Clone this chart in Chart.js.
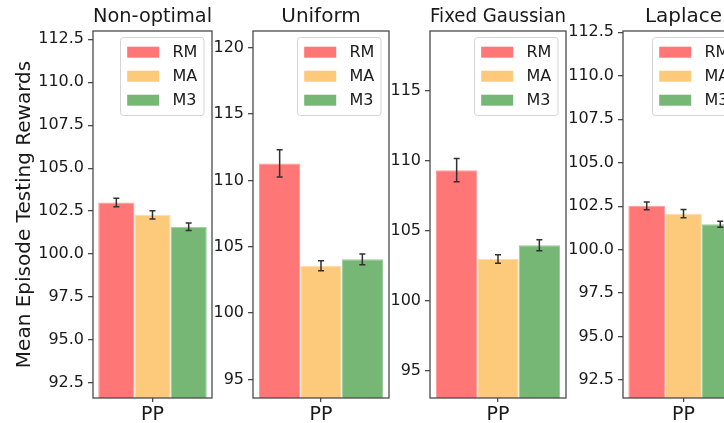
<!DOCTYPE html>
<html>
<head>
<meta charset="utf-8">
<script src="https://cdn.jsdelivr.net/npm/chart.js@4/dist/chart.umd.min.js"></script>
<style>
  html, body { margin: 0; padding: 0; background: #fff; }
  body { position: relative; width: 724px; height: 423px; overflow: hidden; }
  canvas { position: absolute; top: 0; }
</style>
</head>
<body>
<canvas id="c0"></canvas>
<canvas id="c1"></canvas>
<canvas id="c2"></canvas>
<canvas id="c3"></canvas>
<script>
// Data
const categories = ['PP'];
const methods = ['RM', 'MA', 'M3'];
const panelTitles = ['Non-optimal', 'Uniform', 'Fixed Gaussian', 'Laplace'];
const yAxisLabel = 'Mean Episode Testing Rewards';

const rmMeans = [103.0, 111.28, 109.34, 102.52];
const maMeans = [102.29, 103.57, 103.0, 102.07];
const m3Means = [101.59, 104.05, 103.98, 101.46];
const rmErrs = [0.25, 1.03, 0.83, 0.22];
const maErrs = [0.24, 0.38, 0.30, 0.24];
const m3Errs = [0.22, 0.40, 0.39, 0.17];

const yMins = [91.63, 93.6, 93.08, 91.47];
const yMaxs = [112.98, 121.26, 119.28, 112.57];
const yTicksA = [92.5, 95.0, 97.5, 100.0, 102.5, 105.0, 107.5, 110.0, 112.5];
const yTicksB = [95, 100, 105, 110, 115, 120];
const yTicksC = [95, 100, 105, 110, 115];
const panelTicks = [yTicksA, yTicksB, yTicksC, yTicksA];
const tickDecimals = [1, 0, 0, 1];

// Styling
const colors = ['#ff7676', '#fdca7b', '#76b776'];
const edgeColors = ['#ff9c9c', '#fedcab', '#9ccb9c'];
const frameColor = '#4a4a4a';
const textColor = '#1a1a1a';
const fontFamily = "'DejaVu Sans', sans-serif";

// canvas left, y-axis width, canvas width
const panelBoxes = [
    { left: 0, yWidth: 93, width: 216 },
    { left: 214, yWidth: 39, width: 179 },
    { left: 392, yWidth: 38, width: 178 },
    { left: 570, yWidth: 53, width: 178 }
];

const meansBy = [rmMeans, maMeans, m3Means];
const errsBy = [rmErrs, maErrs, m3Errs];

// Axes frame
const framePlugin = {
    id: 'frame',
    afterDraw(chart) {
        const { ctx, chartArea: a } = chart;
        ctx.save();
        ctx.strokeStyle = frameColor;
        ctx.lineWidth = 1.3;
        ctx.strokeRect(a.left, a.top, a.right - a.left, a.bottom - a.top);
        ctx.restore();
    }
};

// Error bars drawn at each bar through the y scale
const errorBarPlugin = {
    id: 'errorBars',
    afterDatasetsDraw(chart) {
        const { ctx, scales: { y } } = chart;
        ctx.save();
        ctx.strokeStyle = '#303030';
        ctx.lineWidth = 1.5;
        chart.data.datasets.forEach((ds, i) => {
            const meta = chart.getDatasetMeta(i);
            meta.data.forEach((bar, j) => {
                const v = ds.data[j];
                const e = ds.errors[j];
                const yTop = y.getPixelForValue(v + e);
                const yBot = y.getPixelForValue(v - e);
                ctx.beginPath();
                ctx.moveTo(bar.x, yTop);
                ctx.lineTo(bar.x, yBot);
                ctx.moveTo(bar.x - 3, yTop);
                ctx.lineTo(bar.x + 3, yTop);
                ctx.moveTo(bar.x - 3, yBot);
                ctx.lineTo(bar.x + 3, yBot);
                ctx.stroke();
            });
        });
        ctx.restore();
    }
};

// Boxed legend in the upper right of each panel
const boxLegendPlugin = {
    id: 'boxLegend',
    afterDraw(chart) {
        const { ctx, chartArea: a } = chart;
        const w = 83.5, h = 78;
        const x0 = a.right - 8 - w;
        const y0 = a.top + 6.5;
        ctx.save();
        ctx.beginPath();
        ctx.roundRect(x0, y0, w, h, 3);
        ctx.fillStyle = 'rgba(255,255,255,0.8)';
        ctx.fill();
        ctx.strokeStyle = '#d4d4d4';
        ctx.lineWidth = 1;
        ctx.stroke();
        ctx.font = '16px ' + fontFamily;
        ctx.textBaseline = 'middle';
        chart.data.datasets.forEach((ds, i) => {
            const cy = y0 + 14.7 + i * 24;
            ctx.fillStyle = ds.backgroundColor;
            ctx.fillRect(x0 + 6.7, cy - 5.5, 32, 11);
            ctx.fillStyle = textColor;
            ctx.fillText(ds.label, x0 + 52, cy + 1);
        });
        ctx.restore();
    }
};

function makePanel(p) {
    const box = panelBoxes[p];
    const canvas = document.getElementById('c' + p);
    canvas.width = box.width;
    canvas.height = 423;
    canvas.style.left = box.left + 'px';
    canvas.style.width = box.width + 'px';
    canvas.style.height = '423px';

    const datasets = methods.map((m, k) => ({
        label: m,
        data: [meansBy[k][p]],
        errors: [errsBy[k][p]],
        backgroundColor: colors[k],
        borderColor: edgeColors[k],
        borderWidth: 1,
        borderSkipped: false
    }));

    const ticks = panelTicks[p];

    return new Chart(canvas, {
        type: 'bar',
        data: { labels: categories, datasets: datasets },
        options: {
            responsive: false,
            animation: false,
            devicePixelRatio: 1,
            categoryPercentage: 0.912,
            barPercentage: 1.0,
            layout: { padding: { left: 0, right: 4, top: 0, bottom: 0 } },
            plugins: {
                legend: { display: false },
                tooltip: { enabled: false },
                title: {
                    display: true,
                    text: panelTitles[p],
                    fullSize: false,
                    color: textColor,
                    font: { family: fontFamily, size: 20, weight: 'normal', lineHeight: 1.2 },
                    padding: { top: 5, bottom: 2 }
                }
            },
            scales: {
                x: {
                    offset: true,
                    grid: { display: true, drawOnChartArea: false, offset: false, tickLength: 4, color: frameColor, lineWidth: 1.3 },
                    border: { display: false },
                    ticks: { color: textColor, padding: 2, font: { family: fontFamily, size: 19 } },
                    afterFit(scale) { scale.height = 25; }
                },
                y: {
                    min: yMins[p],
                    max: yMaxs[p],
                    grid: { display: true, drawOnChartArea: false, tickLength: 5, color: frameColor, lineWidth: 1.3 },
                    border: { display: false },
                    title: {
                        display: p === 0,
                        text: yAxisLabel,
                        color: textColor,
                        font: { family: fontFamily, size: 20, lineHeight: 1.2 },
                        padding: { top: 13, bottom: 0 }
                    },
                    ticks: {
                        color: textColor,
                        padding: 4,
                        font: { family: fontFamily, size: 16 },
                        callback: v => v.toFixed(tickDecimals[p])
                    },
                    afterBuildTicks(scale) { scale.ticks = ticks.map(v => ({ value: v })); },
                    afterFit(scale) { scale.width = box.yWidth; }
                }
            }
        },
        plugins: [errorBarPlugin, framePlugin, boxLegendPlugin]
    });
}

panelTitles.forEach((t, p) => makePanel(p));
</script>
</body>
</html>
